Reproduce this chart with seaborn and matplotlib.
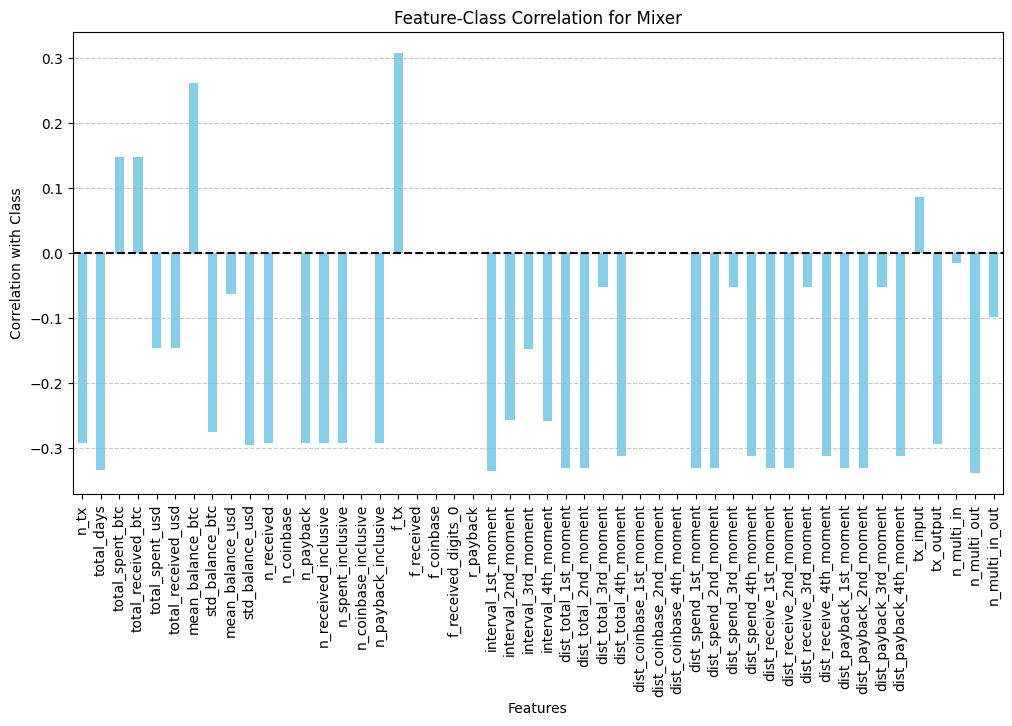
import matplotlib
matplotlib.use("Agg")
import matplotlib.pyplot as plt
import seaborn as sns
import pandas as pd

features = [
    "n_tx", "total_days", "total_spent_btc", "total_received_btc",
    "total_spent_usd", "total_received_usd", "mean_balance_btc",
    "std_balance_btc", "mean_balance_usd", "std_balance_usd",
    "n_received", "n_coinbase", "n_payback", "n_received_inclusive",
    "n_spent_inclusive", "n_coinbase_inclusive", "n_payback_inclusive",
    "f_tx", "f_received", "f_coinbase", "f_received_digits_0", "r_payback",
    "interval_1st_moment", "interval_2nd_moment", "interval_3rd_moment",
    "interval_4th_moment", "dist_total_1st_moment", "dist_total_2nd_moment",
    "dist_total_3rd_moment", "dist_total_4th_moment",
    "dist_coinbase_1st_moment", "dist_coinbase_2nd_moment",
    "dist_coinbase_4th_moment", "dist_spend_1st_moment",
    "dist_spend_2nd_moment", "dist_spend_3rd_moment", "dist_spend_4th_moment",
    "dist_receive_1st_moment", "dist_receive_2nd_moment",
    "dist_receive_3rd_moment", "dist_receive_4th_moment",
    "dist_payback_1st_moment", "dist_payback_2nd_moment",
    "dist_payback_3rd_moment", "dist_payback_4th_moment",
    "tx_input", "tx_output", "n_multi_in", "n_multi_out", "n_multi_in_out",
]

correlations = [
    -0.292, -0.333, 0.148, 0.148,
    -0.146, -0.146, 0.261,
    -0.275, -0.063, -0.295,
    -0.292, 0.0, -0.292, -0.292,
    -0.292, 0.0, -0.292,
    0.308, 0.0, 0.0, 0.0, 0.0,
    -0.335, -0.256, -0.147,
    -0.258, -0.331, -0.331,
    -0.052, -0.312,
    0.0, 0.0,
    0.0, -0.331,
    -0.331, -0.052, -0.312,
    -0.331, -0.331,
    -0.052, -0.312,
    -0.331, -0.331,
    -0.052, -0.312,
    0.087, -0.293, -0.016, -0.338, -0.098,
]

df = pd.DataFrame({"feature": features, "corr": correlations})

fig, ax = plt.subplots(figsize=(12, 6))
sns.barplot(data=df, x="feature", y="corr", color="skyblue", saturation=1,
            width=0.5, ax=ax)
ax.axhline(0, color="black", linestyle="--", linewidth=1.5)
ax.grid(axis="y", linestyle="--", alpha=0.7)
ax.set_title("Feature-Class Correlation for Mixer")
ax.set_xlabel("Features")
ax.set_ylabel("Correlation with Class")
ax.tick_params(axis="x", rotation=90)
ax.set_xlim(-0.5, len(features) - 0.5)

plt.savefig("out.png", dpi=100, bbox_inches="tight")
plt.close()
